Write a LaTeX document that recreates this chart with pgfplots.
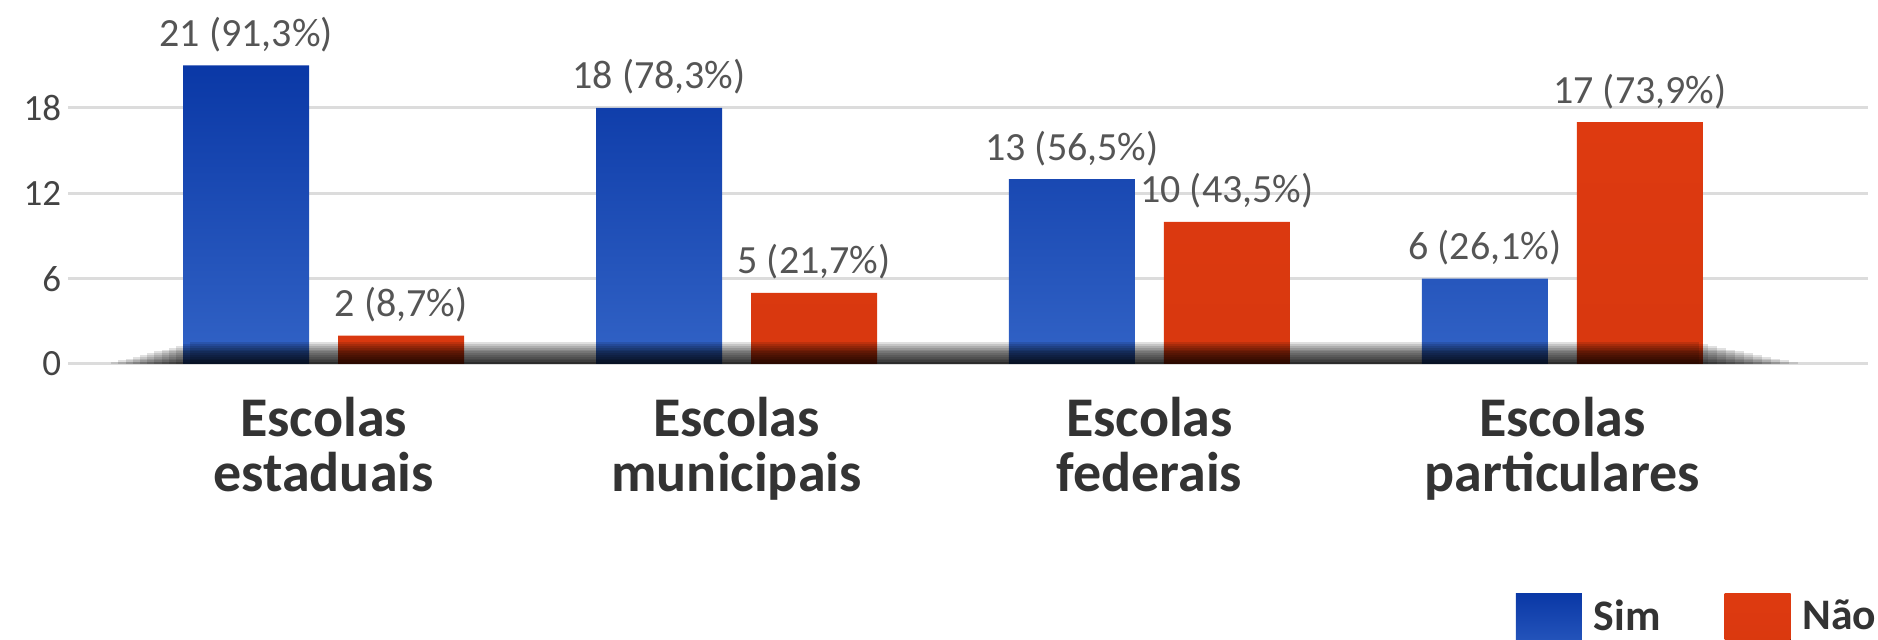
\documentclass[border=0pt]{standalone}
\usepackage{pgfplots}
\pgfplotsset{compat=1.18}
\usepackage{fontspec}
\setmainfont{Carlito}
\definecolor{blueTop}{HTML}{0A38A6}
\definecolor{blueBot}{HTML}{3263C6}
\definecolor{redTop}{HTML}{DE3A10}
\definecolor{redBot}{HTML}{D8380F}
\definecolor{gridc}{HTML}{DCDCDC}
\definecolor{tickc}{HTML}{444444}
\definecolor{valc}{HTML}{555555}
\definecolor{catc}{HTML}{333333}
\begin{document}
\begin{tikzpicture}
\useasboundingbox (-17pt,-69pt) rectangle (452.5pt,91pt);
\begin{axis}[
  scale only axis,
  width=450pt, height=85.333pt,
  xmin=-0.619, xmax=3.74,
  ymin=0, ymax=24,
  ybar=7.25pt, bar width=31.5pt,
  ytick={0,6,12,18},
  xtick={0,1,2,3},
  xticklabels={{Escolas\\estaduais},{Escolas\\municipais},{Escolas\\federais},{Escolas\\particulares}},
  axis line style={draw=none},
  tick style={draw=none},
  ymajorgrids,
  grid style={gridc, line width=0.75pt},
  /pgf/number format/assume math mode=true,
  yticklabel style={font=\fontsize{9.25}{11}\selectfont, text=tickc, inner sep=0pt, xshift=-1.5pt},
  xticklabel style={font=\fontsize{14}{13.75}\selectfont\bfseries, text=catc, align=center, inner sep=0pt, anchor=north, yshift=-3.8pt},
  point meta=explicit symbolic,
  nodes near coords,
  nodes near coords style={font=\fontsize{10}{11}\selectfont, text=valc, anchor=base, inner sep=0pt, yshift=4.75pt},
  legend columns=2,
  legend style={at={(rel axis cs:0.8039,-0.671)}, anchor=north west, draw=none, fill=none, inner sep=0pt,
    nodes={inner sep=0pt, font=\fontsize{10.9}{12}\selectfont\bfseries, text=catc},
    /tikz/every odd column/.append style={column sep=3pt},
    /tikz/every even column/.append style={column sep=16pt}},
  legend image code/.code={\fill[#1] (0pt,-12.25pt) rectangle (16.5pt,6pt);},
]
\addplot[draw=none, top color=blueTop, bottom color=blueBot]
  coordinates {(0,21) [21 (91,3\%)] (1,18) [18 (78,3\%)] (2,13) [13 (56,5\%)] (3,6) [6 (26,1\%)]};
\addlegendentry{Sim}
\addplot[draw=none, top color=redTop, bottom color=redBot]
  coordinates {(0,2) [2 (8,7\%)] (1,5) [5 (21,7\%)] (2,10) [10 (43,5\%)] (3,17) [17 (73,9\%)]};
\addlegendentry{Não}
\end{axis}
% soft shadow along the baseline (decoration)
\foreach \i in {1,...,12}{
  \fill[black, fill opacity=0.12] ({(0.02+0.004*\i)*450pt},0pt) rectangle ({(0.966-0.005*\i)*450pt},{\i*0.45pt});
}
\end{tikzpicture}
\end{document}
